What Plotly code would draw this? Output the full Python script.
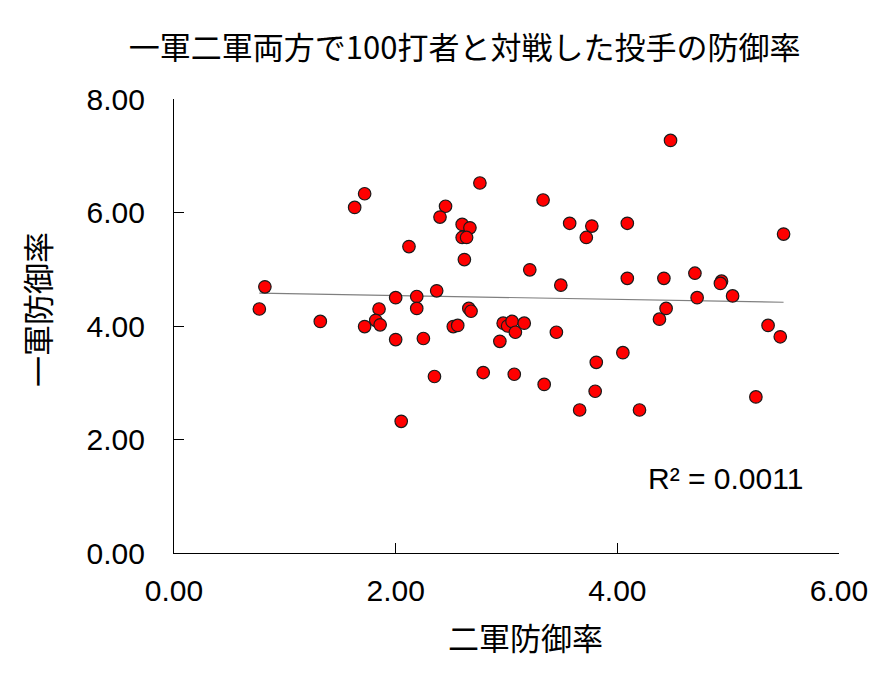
import numpy as np
import plotly.graph_objects as go

# 二軍防御率 (x) and 一軍防御率 (y)
farm_era = [2.76, 1.72, 1.63, 2.45, 2.40, 2.60, 2.67, 2.60, 2.64, 2.12,
            2.62, 0.82, 2.37, 2.00, 2.19, 0.77, 1.85, 2.19, 2.66, 2.68,
            1.32, 1.82, 1.72, 1.86, 2.52, 2.56, 2.00, 2.25, 2.94, 2.35,
            2.79, 2.05, 4.48, 3.33, 3.57, 3.77, 3.72, 4.09, 5.50, 3.21,
            3.49, 4.09, 4.42, 4.70, 4.94, 4.93, 4.72, 5.04, 4.44, 4.38,
            5.36, 5.47, 2.97, 3.01, 3.05, 3.08, 3.16, 3.45, 3.07, 3.34,
            4.05, 3.81, 3.80, 3.66, 4.20, 5.25]
top_era = [6.52, 6.33, 6.09, 6.11, 5.92, 5.79, 5.73, 5.56, 5.56, 5.40,
           5.17, 4.69, 4.62, 4.50, 4.52, 4.30, 4.30, 4.31, 4.31, 4.26,
           4.08, 4.10, 3.99, 4.02, 3.99, 4.01, 3.76, 3.78, 3.73, 3.11,
           3.18, 2.32, 7.27, 6.22, 5.81, 5.76, 5.56, 5.81, 5.62, 4.99,
           4.72, 4.84, 4.84, 4.93, 4.79, 4.75, 4.50, 4.53, 4.31, 4.12,
           4.01, 3.81, 4.05, 4.00, 4.08, 3.89, 4.05, 3.89, 3.15, 2.97,
           3.53, 3.36, 2.85, 2.52, 2.52, 2.75]

x_ticks = [0, 2, 4, 6]
y_ticks = [0, 2, 4, 6, 8]
tick_fmt = ["0.00", "2.00", "4.00", "6.00", "8.00"]

title = "一軍二軍両方で100打者と対戦した投手の防御率"
x_title = "二軍防御率"
y_title = "一軍防御率"
r2_text = "R² = 0.0011"

xa = np.array(farm_era)
ya = np.array(top_era)
slope, intercept = np.polyfit(xa, ya, 1)
trend_x = [xa.min(), xa.max()]
trend_y = [slope * v + intercept for v in trend_x]

cjk = "Noto Sans CJK JP"
lat = "Liberation Sans"

fig = go.Figure()
fig.add_trace(go.Scatter(
    x=trend_x, y=trend_y, mode="lines",
    line=dict(color="#7f7f7f", width=1.2), showlegend=False, hoverinfo="skip"))
fig.add_trace(go.Scatter(
    x=farm_era, y=top_era, mode="markers",
    marker=dict(color="#ff0000", size=12.5, line=dict(color="#1a1a1a", width=1.2)),
    showlegend=False))

fig.add_annotation(x=4.98, y=1.32, text=r2_text, showarrow=False,
                   font=dict(family=lat, size=30, color="black"))

# axis titles placed as annotations to match the reference offsets
fig.add_annotation(xref="paper", yref="paper", x=0.528, y=-0.185,
                   xanchor="center", yanchor="middle", text=x_title,
                   showarrow=False, font=dict(family=cjk, size=31, color="black"))
fig.add_annotation(xref="paper", yref="paper", x=-0.2075, y=0.535,
                   xanchor="center", yanchor="middle", text=y_title, textangle=-90,
                   showarrow=False, font=dict(family=cjk, size=31, color="black"))

fig.update_layout(
    width=885, height=674,
    margin=dict(l=166, r=54, t=91, b=129),
    paper_bgcolor="white", plot_bgcolor="white",
    title=dict(text=title, x=0.516, xanchor="center", y=0.94, yanchor="middle",
               font=dict(family=cjk, size=31, color="black")),
    xaxis=dict(range=[0, 6], tickvals=x_ticks, ticktext=tick_fmt[:4],
               showgrid=False, zeroline=False, showline=True, linecolor="black",
               linewidth=1.2, ticks="inside", ticklen=10, tickcolor="black",
               ticklabelstandoff=11,
               tickfont=dict(family=lat, size=30, color="black")),
    yaxis=dict(range=[0, 8], tickvals=y_ticks, ticktext=tick_fmt,
               showgrid=False, zeroline=False, showline=True, linecolor="black",
               linewidth=1.2, ticks="inside", ticklen=10, tickcolor="black",
               ticklabelstandoff=22,
               tickfont=dict(family=lat, size=30, color="black")),
)

fig.write_html("out.html")
